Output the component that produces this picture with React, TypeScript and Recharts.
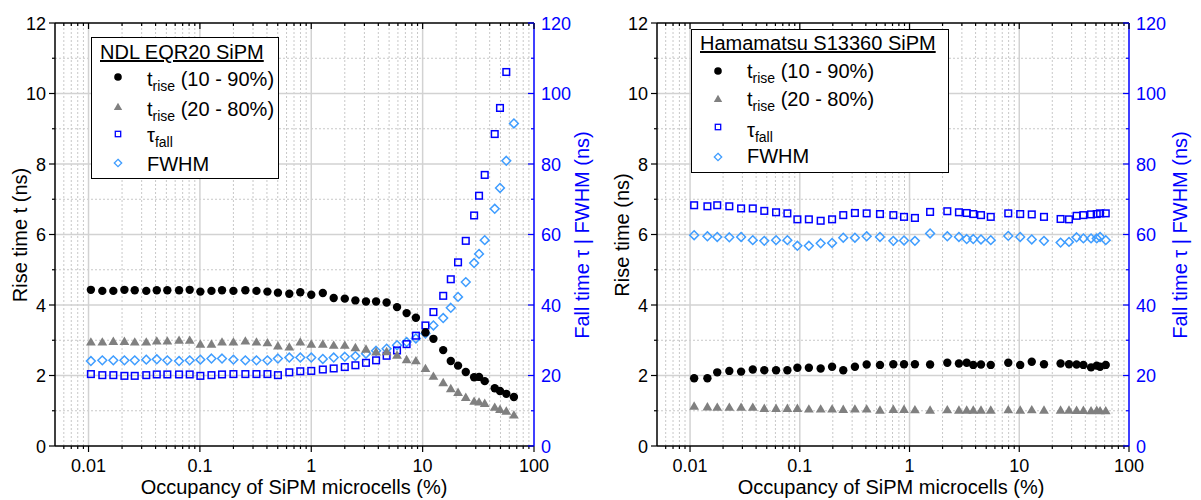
import React from "react";
import { ScatterChart, Scatter, XAxis, YAxis, ReferenceLine } from "recharts";

// NDL EQR20 SiPM (left panel)
const ndlOccupancy = [
  0.0105, 0.0133, 0.0167, 0.021, 0.026, 0.033, 0.041, 0.051, 0.065, 0.081,
  0.101, 0.127, 0.158, 0.2, 0.256, 0.322, 0.404, 0.502, 0.635, 0.797,
  1.0, 1.27, 1.59, 2.0, 2.49, 3.1, 3.82, 4.75, 5.89, 7.18,
  8.7, 10.6, 12.5, 15.3, 17.9, 20.8, 24.4, 29.0, 32.1, 36.1,
  44.4, 49.5, 56.4, 66.0,
];
const ndlRise1090 = [
  4.43, 4.4, 4.4, 4.43, 4.42, 4.4, 4.42, 4.42, 4.42, 4.43,
  4.38, 4.4, 4.42, 4.4, 4.42, 4.4, 4.38, 4.35, 4.32, 4.36,
  4.29, 4.34, 4.2, 4.18, 4.13, 4.1, 4.1, 4.07, 3.94, 3.77,
  3.64, 3.22, 3.04, 2.72, 2.41, 2.28, 2.1, 1.95, 1.96, 1.84,
  1.64, 1.56, 1.48, 1.39,
];
const ndlRise2080 = [
  2.95, 2.95, 2.97, 2.97, 2.95, 2.95, 2.98, 2.98, 3.0, 3.0,
  2.89, 2.89, 2.95, 2.95, 2.98, 2.95, 2.93, 2.84, 2.81, 2.95,
  2.89, 2.89, 2.86, 2.86, 2.79, 2.75, 2.67, 2.68, 2.58, 2.45,
  2.42, 2.2, 1.98, 1.8, 1.63, 1.52, 1.38, 1.27, 1.25, 1.21,
  1.1, 1.04, 0.99, 0.88,
];
const ndlTauFall = [
  20.4, 20.1, 20.1, 19.9, 19.9, 20.1, 20.3, 20.3, 20.3, 20.3,
  19.9, 20.1, 20.3, 20.4, 20.4, 20.4, 20.4, 20.1, 20.9, 21.2,
  21.3, 21.7, 22.0, 22.4, 22.9, 23.6, 24.3, 25.6, 27.1, 28.9,
  31.3, 34.2, 38.0, 42.6, 47.3, 52.1, 58.2, 65.4, 71.0, 76.9,
  88.5, 95.9, 106.1, null,
];
const ndlFwhm = [
  24.1, 24.3, 24.3, 24.3, 24.3, 24.5, 24.6, 24.3, 24.1, 24.3,
  24.5, 24.8, 24.8, 24.5, 24.3, 24.3, 24.3, 24.8, 25.1, 25.1,
  25.1, 24.7, 25.1, 25.3, 25.5, 26.2, 27.0, 27.6, 28.6, 29.5,
  30.5, 31.9, 34.2, 36.3, 39.2, 42.3, 46.5, 51.9, 54.5, 58.4,
  67.3, 73.2, 80.9, 91.5,
];

// Hamamatsu S13360 SiPM (right panel)
const hamOccupancy = [
  0.0109, 0.0144, 0.0177, 0.0228, 0.0292, 0.0373, 0.0475, 0.0608, 0.0771, 0.0951,
  0.121, 0.155, 0.197, 0.249, 0.318, 0.407, 0.538, 0.712, 0.891, 1.12,
  1.54, 2.21, 2.82, 3.32, 3.81, 4.48, 5.5, 7.94, 10.2, 13.0,
  16.8, 23.8, 28.4, 33.3, 38.4, 45.1, 50.8, 54.5, 61.4,
];
const hamRise1090 = [
  1.92, 1.92, 2.09, 2.13, 2.11, 2.17, 2.15, 2.15, 2.15, 2.22,
  2.22, 2.2, 2.25, 2.15, 2.25, 2.31, 2.3, 2.32, 2.32, 2.32,
  2.31, 2.36, 2.34, 2.36, 2.3, 2.31, 2.3, 2.36, 2.3, 2.39,
  2.32, 2.34, 2.32, 2.31, 2.3, 2.23, 2.28, 2.25, 2.3,
];
const hamRise2080 = [
  1.13, 1.11, 1.1, 1.1, 1.1, 1.1, 1.07, 1.07, 1.07, 1.07,
  1.05, 1.05, 1.05, 1.04, 1.05, 1.05, 1.02, 1.04, 1.04, 1.03,
  1.02, 1.03, 1.02, 1.02, 1.02, 1.02, 1.02, 1.03, 1.02, 1.03,
  1.02, 1.02, 1.02, 1.01, 1.01, 1.0, 1.01, 1.0, 1.0,
];
const hamTauFall = [
  68.3, 68.0, 68.3, 68.0, 67.4, 67.4, 66.7, 66.3, 66.0, 64.3,
  64.3, 63.9, 64.3, 65.5, 66.1, 66.0, 65.8, 65.5, 65.0, 64.7,
  66.4, 66.6, 66.3, 66.1, 65.8, 65.5, 65.0, 66.0, 65.8, 65.7,
  65.0, 64.4, 64.3, 65.3, 65.5, 65.7, 65.8, 66.0, 66.0,
];
const hamFwhm = [
  59.8, 59.5, 59.3, 59.2, 59.3, 58.4, 58.2, 58.4, 58.4, 56.8,
  56.8, 57.5, 57.6, 59.1, 59.1, 59.5, 59.3, 58.2, 58.3, 58.2,
  60.3, 59.5, 59.3, 58.7, 58.7, 58.6, 58.4, 59.6, 59.3, 58.6,
  58.2, 57.7, 57.9, 59.2, 58.9, 58.9, 58.9, 59.3, 58.4,
];

// axes
const xMajor = [0.01, 0.1, 1, 10, 100];
const xMajorLabels = ["0.01", "0.1", "1", "10", "100"];
const xMinor = [
  0.006, 0.007, 0.008, 0.009,
  0.02, 0.03, 0.04, 0.05, 0.06, 0.07, 0.08, 0.09,
  0.2, 0.3, 0.4, 0.5, 0.6, 0.7, 0.8, 0.9,
  2, 3, 4, 5, 6, 7, 8, 9,
  20, 30, 40, 50, 60, 70, 80, 90,
];
const riseTicks = [0, 1, 2, 3, 4, 5, 6, 7, 8, 9, 10, 11, 12];
const fallTicks = [0, 10, 20, 30, 40, 50, 60, 70, 80, 90, 100, 110, 120];

const FONT = '"Liberation Sans", Arial, Helvetica, sans-serif';
const BLUE = "#0000ff";
const LIGHT_BLUE = "#3f9dff";
const GREY = "#808080";

const pts = (xs: number[], ys: (number | null)[]) =>
  xs.map((x, i) => ({ x, y: ys[i] })).filter((p) => p.y != null);

const Dot = (p: any) => <circle cx={p.cx} cy={p.cy} r={4.2} fill="#000" />;
const Tri = (p: any) => (
  <polygon
    points={`${p.cx},${p.cy - 4.8} ${p.cx + 4.9},${p.cy + 3.6} ${p.cx - 4.9},${p.cy + 3.6}`}
    fill={GREY}
  />
);
const Sq = (p: any) => (
  <rect x={p.cx - 3.3} y={p.cy - 3.3} width={6.6} height={6.6} fill="none" stroke={BLUE} strokeWidth={1.5} />
);
const Dia = (p: any) => (
  <polygon
    points={`${p.cx},${p.cy - 4.4} ${p.cx + 4.4},${p.cy} ${p.cx},${p.cy + 4.4} ${p.cx - 4.4},${p.cy}`}
    fill="none"
    stroke={LIGHT_BLUE}
    strokeWidth={1.5}
  />
);

const BottomTick = ({ x, y, payload }: any) => {
  const i = xMajor.indexOf(payload.value);
  return (
    <g>
      <line x1={x} x2={x} y1={y} y2={y + (i >= 0 ? 6 : 3)} stroke="#000" strokeWidth={1.2} />
      {i >= 0 && (
        <text x={x} y={y + 26} textAnchor="middle" fontSize={18} fontFamily={FONT} fill="#000">
          {xMajorLabels[i]}
        </text>
      )}
    </g>
  );
};
const TopTick = ({ x, y, payload }: any) => {
  const major = xMajor.includes(payload.value);
  return <line x1={x} x2={x} y1={y} y2={y + (major ? 6 : 3)} stroke="#000" strokeWidth={1.2} />;
};
const LeftTick = ({ x, y, payload }: any) => {
  const major = payload.value % 2 === 0;
  return (
    <g>
      <line x1={x - (major ? 6 : 3)} x2={x} y1={y} y2={y} stroke="#000" strokeWidth={1.2} />
      {major && (
        <text x={x - 9} y={y + 6.5} textAnchor="end" fontSize={18} fontFamily={FONT} fill="#000">
          {payload.value}
        </text>
      )}
    </g>
  );
};
const RightTick = ({ x, y, payload }: any) => {
  const major = payload.value % 20 === 0;
  return (
    <g>
      <line x1={x - (major ? 6 : 3)} x2={x} y1={y} y2={y} stroke={BLUE} strokeWidth={1.2} />
      {major && (
        <text x={x + 7} y={y + 6.5} textAnchor="start" fontSize={18} fontFamily={FONT} fill={BLUE}>
          {payload.value}
        </text>
      )}
    </g>
  );
};

type PanelProps = {
  left: number;
  width: number;
  margin: { top: number; right: number; bottom: number; left: number };
  occupancy: number[];
  rise1090: number[];
  rise2080: number[];
  tauFall: (number | null)[];
  fwhm: number[];
};

function Panel(props: PanelProps) {
  const { left, width, margin, occupancy } = props;
  return (
    <div style={{ position: "absolute", left, top: 0 }}>
      <ScatterChart width={width} height={500} margin={margin}>
        {xMinor.map((v) => (
          <ReferenceLine key={"xm" + v} xAxisId="b" yAxisId="L" x={v} stroke="#c8c8c8" strokeDasharray="2 2" />
        ))}
        {[1, 3, 5, 7, 9, 11].map((v) => (
          <ReferenceLine key={"ym" + v} xAxisId="b" yAxisId="L" y={v} stroke="#c8c8c8" strokeDasharray="2 2" />
        ))}
        {[0.01, 0.1, 1, 10].map((v) => (
          <ReferenceLine key={"xM" + v} xAxisId="b" yAxisId="L" x={v} stroke="#d2d2d2" strokeWidth={1.5} />
        ))}
        {[2, 4, 6, 8, 10].map((v) => (
          <ReferenceLine key={"yM" + v} xAxisId="b" yAxisId="L" y={v} stroke="#d2d2d2" strokeWidth={1.5} />
        ))}
        <XAxis
          xAxisId="b"
          type="number"
          dataKey="x"
          scale="log"
          domain={[0.005, 100]}
          allowDataOverflow
          ticks={[...xMinor, ...xMajor]}
          interval={0}
          height={1}
          tickSize={0}
          tickMargin={0}
          tickLine={false}
          tick={BottomTick}
          axisLine={{ stroke: "#000", strokeWidth: 1.5 }}
        />
        <XAxis
          xAxisId="t"
          orientation="top"
          type="number"
          dataKey="x"
          scale="log"
          domain={[0.005, 100]}
          allowDataOverflow
          ticks={[...xMinor, ...xMajor]}
          interval={0}
          height={1}
          tickSize={0}
          tickMargin={0}
          tickLine={false}
          tick={TopTick}
          axisLine={{ stroke: "#000", strokeWidth: 1.5 }}
        />
        <YAxis
          yAxisId="L"
          type="number"
          dataKey="y"
          domain={[0, 12]}
          allowDataOverflow
          ticks={riseTicks}
          interval={0}
          width={1}
          tickSize={0}
          tickMargin={0}
          tickLine={false}
          tick={LeftTick}
          axisLine={{ stroke: "#000", strokeWidth: 1.5 }}
        />
        <YAxis
          yAxisId="R"
          orientation="right"
          type="number"
          dataKey="y"
          domain={[0, 120]}
          allowDataOverflow
          ticks={fallTicks}
          interval={0}
          width={1}
          tickSize={0}
          tickMargin={0}
          tickLine={false}
          tick={RightTick}
          axisLine={{ stroke: BLUE, strokeWidth: 1.5 }}
        />
        <Scatter xAxisId="b" yAxisId="R" data={pts(occupancy, props.fwhm)} shape={Dia} isAnimationActive={false} />
        <Scatter xAxisId="b" yAxisId="R" data={pts(occupancy, props.tauFall)} shape={Sq} isAnimationActive={false} />
        <Scatter xAxisId="b" yAxisId="L" data={pts(occupancy, props.rise2080)} shape={Tri} isAnimationActive={false} />
        <Scatter xAxisId="b" yAxisId="L" data={pts(occupancy, props.rise1090)} shape={Dot} isAnimationActive={false} />
      </ScatterChart>
    </div>
  );
}

const textStyle: React.CSSProperties = {
  position: "absolute",
  fontFamily: FONT,
  fontSize: 20,
  lineHeight: "20px",
  whiteSpace: "nowrap",
  color: "#000",
};

function VTitle({ cx, cy, color, children }: any) {
  return (
    <div
      style={{
        ...textStyle,
        left: cx,
        top: cy,
        color,
        transform: "translate(-50%, -50%) rotate(-90deg)",
      }}
    >
      {children}
    </div>
  );
}

const sub: React.CSSProperties = { fontSize: 14, position: "relative", top: 5 };

function LegendMarker({ kind, x, y }: { kind: string; x: number; y: number }) {
  return (
    <svg style={{ position: "absolute", left: x - 7, top: y - 7 }} width={14} height={14}>
      {kind === "dot" && <circle cx={7} cy={7} r={3.8} fill="#000" />}
      {kind === "tri" && <polygon points="7,2.8 11.2,10 2.8,10" fill={GREY} />}
      {kind === "sq" && <rect x={4.3} y={4.3} width={5.4} height={5.4} fill="none" stroke={BLUE} strokeWidth={1.3} />}
      {kind === "dia" && <polygon points="7,3.3 10.7,7 7,10.7 3.3,7" fill="none" stroke={LIGHT_BLUE} strokeWidth={1.3} />}
    </svg>
  );
}

function LegendBox(props: {
  box: { left: number; top: number; width: number; height: number };
  title: string;
  titleX: number;
  titleBase: number;
  markerX: number;
  textX: number;
  markerY: number[];
  baseY: number[];
}) {
  const { box, markerY, baseY } = props;
  const rows = [
    <>t<span style={sub}>rise</span> (10 - 90%)</>,
    <>t<span style={sub}>rise</span> (20 - 80%)</>,
    <>τ<span style={sub}>fall</span></>,
    <>FWHM</>,
  ];
  const kinds = ["dot", "tri", "sq", "dia"];
  return (
    <>
      <div
        style={{
          position: "absolute",
          left: box.left,
          top: box.top,
          width: box.width,
          height: box.height,
          border: "1.5px solid #000",
          background: "#fff",
          boxSizing: "border-box",
        }}
      />
      <div style={{ ...textStyle, left: props.titleX, top: props.titleBase - 16.6, textDecoration: "underline" }}>
        {props.title}
      </div>
      {rows.map((r, i) => (
        <React.Fragment key={i}>
          <LegendMarker kind={kinds[i]} x={props.markerX} y={markerY[i]} />
          <div style={{ ...textStyle, left: props.textX, top: baseY[i] - 16.6 }}>{r}</div>
        </React.Fragment>
      ))}
    </>
  );
}

export default function App() {
  return (
    <div style={{ position: "absolute", left: 0, top: 0, width: 1201, height: 500, background: "#fff", overflow: "hidden" }}>
      <Panel
        left={0}
        width={600}
        margin={{ top: 22, right: 65, bottom: 53, left: 54 }}
        occupancy={ndlOccupancy}
        rise1090={ndlRise1090}
        rise2080={ndlRise2080}
        tauFall={ndlTauFall}
        fwhm={ndlFwhm}
      />
      <Panel
        left={600}
        width={601}
        margin={{ top: 22, right: 71, bottom: 53, left: 56 }}
        occupancy={hamOccupancy}
        rise1090={hamRise1090}
        rise2080={hamRise2080}
        tauFall={hamTauFall}
        fwhm={hamFwhm}
      />

      <VTitle cx={20} cy={235}>Rise time t (ns)</VTitle>
      <VTitle cx={582} cy={235} color={BLUE}>Fall time τ | FWHM (ns)</VTitle>
      <VTitle cx={622} cy={235}>Rise time (ns)</VTitle>
      <VTitle cx={1180} cy={235} color={BLUE}>Fall time τ | FWHM (ns)</VTitle>

      <div style={{ ...textStyle, left: 294, top: 477, transform: "translateX(-50%)" }}>
        Occupancy of SiPM microcells (%)
      </div>
      <div style={{ ...textStyle, left: 891, top: 477, transform: "translateX(-50%)" }}>
        Occupancy of SiPM microcells (%)
      </div>

      <LegendBox
        box={{ left: 91, top: 37, width: 188, height: 142 }}
        title="NDL EQR20 SiPM"
        titleX={100}
        titleBase={59}
        markerX={118}
        textX={147}
        markerY={[77, 107, 134, 163]}
        baseY={[86, 115.5, 142, 171]}
      />
      <LegendBox
        box={{ left: 691, top: 29, width: 258, height: 144 }}
        title="Hamamatsu S13360 SiPM"
        titleX={700}
        titleBase={50}
        markerX={718}
        textX={747}
        markerY={[71, 99, 127, 157]}
        baseY={[78, 106, 137, 163]}
      />
    </div>
  );
}
